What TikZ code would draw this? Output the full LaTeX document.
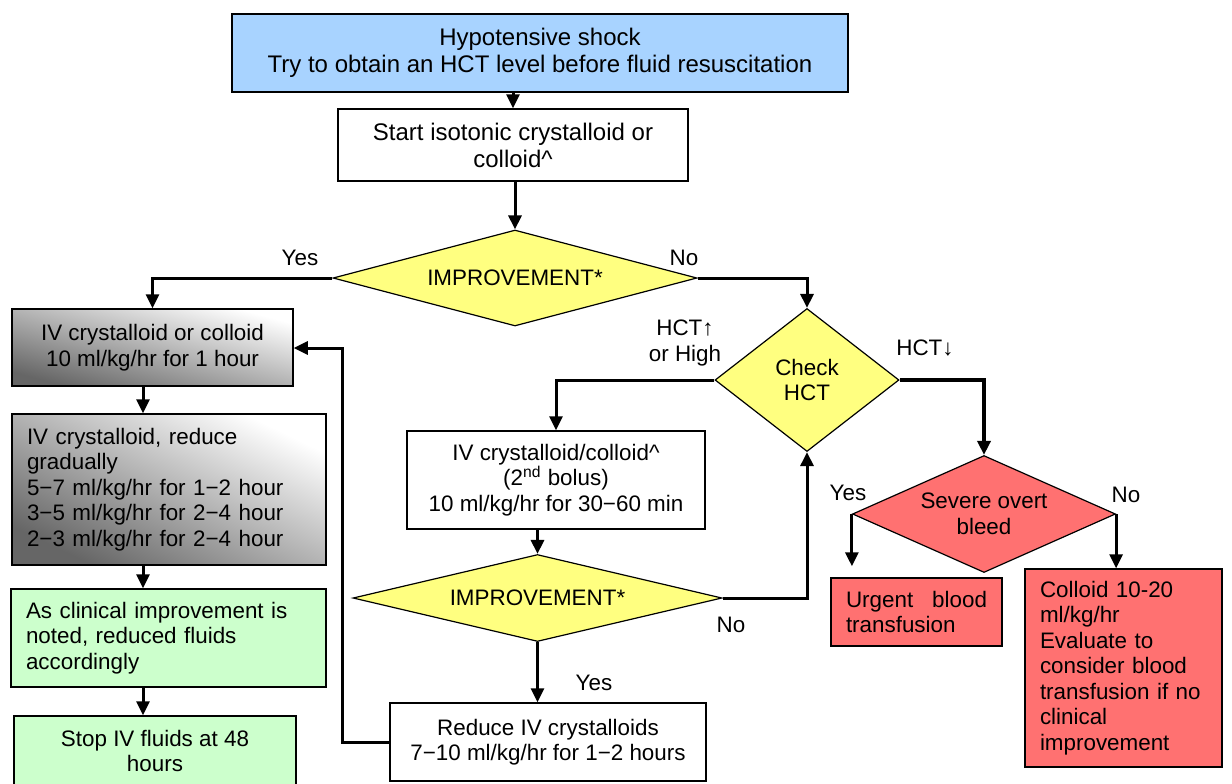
\documentclass[tikz,border=0pt]{standalone}
\usepackage{fontspec}
\setmainfont{Liberation Sans}
\usetikzlibrary{shapes.geometric,arrows.meta,calc}
\definecolor{blueA}{HTML}{A8D3FF}
\definecolor{yelA}{HTML}{FFFF80}
\definecolor{greenA}{HTML}{CCFFCC}
\definecolor{redA}{HTML}{FF7171}
\begin{document}
\begin{tikzpicture}[x=0.5pt,y=-0.5pt,
  every node/.style={font=\fontsize{11.2}{12.75}\selectfont, inner sep=0pt},
  box/.style={draw, line width=0.75pt, rectangle, align=center},
  lbox/.style={draw, line width=0.75pt, rectangle, align=left, inner xsep=7.5pt},
  grad/.style={top color=white, bottom color=black!60, shading angle=#1},
  dia/.style={draw, diamond, line width=0.6pt, fill=yelA, align=center},
  bigfont/.style={font=\fontsize{12}{13.5}\selectfont},
  conn/.style={line width=1.5pt, -{Triangle[width=6.5pt,length=7pt]}}
]
\useasboundingbox (0,0) rectangle (1232,783);
\clip (0,0) rectangle (1232,783);

% main column
\node[box, fill=blueA, minimum width=308pt, minimum height=39pt, bigfont] (top) at (540,53)
  {Hypotensive shock\\Try to obtain an HCT level before fluid resuscitation};
\node[box, fill=white, minimum width=175pt, minimum height=36pt, bigfont] (start) at (513,145)
  {Start isotonic crystalloid or\\colloid\textasciicircum};
\node[dia, shape aspect=3.79, minimum width=182pt, minimum height=48pt] (d1) at (515,278) {IMPROVEMENT*};

% left column
\node[box, grad=-15, minimum width=140.5pt, minimum height=38.5pt] (b1) at (152.5,347.5)
  {IV crystalloid or colloid\\10 ml/kg/hr for 1 hour};
\node[lbox, grad=-26, text width=142pt, minimum height=75.5pt] (b2) at (169,489.5)
  {IV crystalloid, reduce\\gradually\\5−7 ml/kg/hr for 1−2 hour\\3−5 ml/kg/hr for 2−4 hour\\2−3 ml/kg/hr for 2−4 hour};
\node[lbox, fill=greenA, text width=142.5pt, minimum height=49pt] (b3) at (168.5,638)
  {As clinical improvement is\\noted, reduced fluids\\accordingly};
\node[box, fill=greenA, minimum width=141pt, minimum height=35pt] (b4) at (155,751)
  {Stop IV fluids at 48\\hours};

% middle
\node[dia, shape aspect=1.29, minimum width=92pt, minimum height=71.5pt] (hct) at (807,380) {Check\\HCT};
\node[box, fill=white, minimum width=149pt, minimum height=49pt] (ivc) at (556,480)
  {IV crystalloid/colloid\textasciicircum\\(2\textsuperscript{nd} bolus)\\10 ml/kg/hr for 30−60 min};
\node[dia, shape aspect=4.24, minimum width=184.5pt, minimum height=43.5pt] (d2) at (537.5,598) {IMPROVEMENT*};
\node[box, fill=white, minimum width=158pt, minimum height=39pt] (red) at (548,742)
  {Reduce IV crystalloids\\7−10 ml/kg/hr for 1−2 hours};

% right
\node[dia, fill=redA, shape aspect=2.25, minimum width=131.5pt, minimum height=58.5pt] (sev) at (984,514) {Severe overt\\bleed};
\node[lbox, fill=redA, text width=70.5pt, minimum height=34pt] (urg) at (916.5,612)
  {Urgent\hfill blood\\transfusion};
\node[lbox, fill=redA, text width=83.5pt, minimum height=99pt] (col) at (1123.5,668)
  {Colloid 10-20\\ml/kg/hr\\Evaluate to\\consider blood\\transfusion if no\\clinical\\improvement};

% labels
\node (yes1) at (300,258) {Yes};
\node (no1) at (684,258) {No};
\node[align=center] (hctup) at (685,343) {HCT↑\\or High};
\node (hctdn) at (925,348) {HCT↓};
\node (yes2) at (848,493) {Yes};
\node (no2) at (1126,495) {No};
\node (no3) at (731,625) {No};
\node (yes3) at (594,683) {Yes};

% connectors
\coordinate (lx) at (143,0);
\coordinate (fb) at (342,348);
\draw[conn] (start.north |- top.south) -- (start.north);
\draw[conn] (d1.north |- start.south) -- (d1.north);
\draw[conn] (d1.west) -| (b1.north);
\draw[conn] (d1.east) -| (hct.north);
\draw[conn] (b1.south -| lx) -- (b2.north -| lx);
\draw[conn] (b2.south -| lx) -- (b3.north -| lx);
\draw[conn] (b3.south -| lx) -- (b4.north -| lx);
\draw[conn] (hct.west) -| (ivc.north);
\draw[conn] (ivc.south -| d2.north) -- (d2.north);
\draw[conn] (d2.east) -| (hct.south);
\draw[conn] (d2.south) -- (d2.south |- red.north);
\draw[conn] (red.west) -- (red.west -| fb) -- (fb) -- (fb -| b1.east);
\draw[conn, line width=2pt] (hct.east) -| (sev.north);
\draw[conn, shorten >=5.5pt] (sev.west) -- (sev.west |- urg.north);
\draw[conn] (sev.east) -- (sev.east |- col.north);
\end{tikzpicture}
\end{document}
